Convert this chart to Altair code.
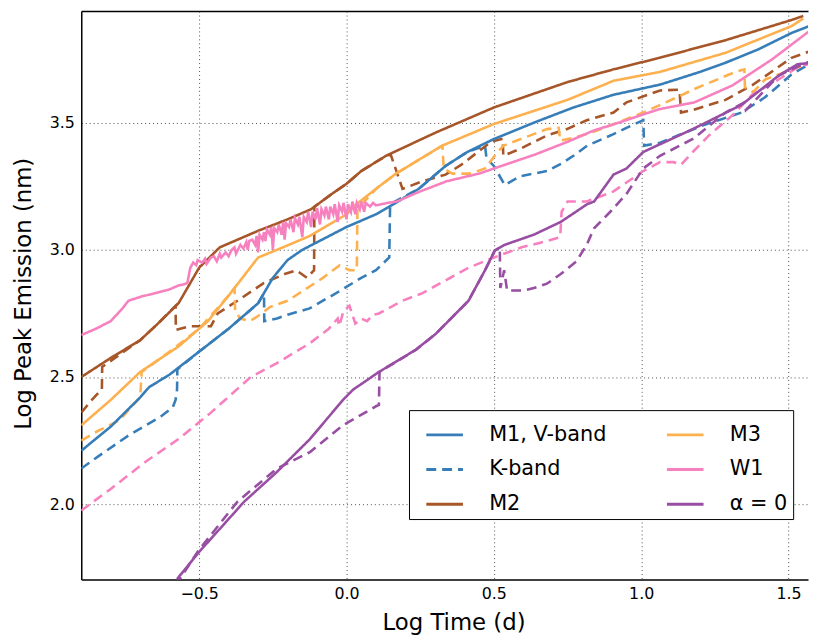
import altair as alt
import pandas as pd

# ---- series data (log time, log peak emission) ----
m1_x = [-0.9, -0.8, -0.7, -0.67, -0.6, -0.5, -0.4, -0.36, -0.3, -0.25, -0.2, -0.15, -0.1, 0.0, 0.1, 0.16,
        0.245, 0.336, 0.41, 0.5, 0.635, 0.77, 0.906, 1.064, 1.2, 1.286, 1.4, 1.51, 1.57]
m1_y = [2.21, 2.305, 2.42, 2.46, 2.51, 2.60, 2.69, 2.73, 2.79, 2.89, 2.96, 3.00, 3.03, 3.09, 3.14, 3.18,
        3.24, 3.33, 3.385, 3.436, 3.50, 3.56, 3.61, 3.65, 3.70, 3.736, 3.79, 3.853, 3.88]

m1k_x = [-0.9, -0.84, -0.74, -0.63, -0.59, -0.58, -0.575, -0.574, -0.5, -0.4, -0.3, -0.28, -0.279, -0.236,
         -0.2, -0.125, -0.035, 0.05, 0.1, 0.145, 0.148, 0.245, 0.336, 0.41, 0.47, 0.475, 0.5, 0.537,
         0.59, 0.636, 0.68, 0.73, 0.77, 0.817, 0.906, 0.95, 1.007, 1.01, 1.06, 1.21, 1.34, 1.42, 1.51, 1.57]
m1k_y = [2.14, 2.19, 2.27, 2.345, 2.38, 2.41, 2.45, 2.53, 2.60, 2.69, 2.79, 2.83, 2.72, 2.73,
         2.745, 2.77, 2.83, 2.89, 2.92, 2.97, 3.18, 3.24, 3.33, 3.385, 3.41, 3.36, 3.33, 3.255,
         3.29, 3.30, 3.31, 3.34, 3.37, 3.41, 3.455, 3.48, 3.51, 3.41, 3.42, 3.49, 3.54, 3.60, 3.69, 3.73]

m2_x = [-0.9, -0.8, -0.7, -0.64, -0.57, -0.5, -0.43, -0.3, -0.2, -0.12, -0.05, 0.0, 0.05, 0.134, 0.3,
        0.5, 0.75, 0.906, 1.064, 1.29, 1.51, 1.55]
m2_y = [2.50, 2.575, 2.645, 2.71, 2.79, 2.93, 3.01, 3.075, 3.12, 3.16, 3.22, 3.26, 3.31, 3.37, 3.46,
        3.56, 3.66, 3.71, 3.756, 3.826, 3.904, 3.92]

m2k_x = [-0.9, -0.864, -0.84, -0.83, -0.829, -0.7, -0.64, -0.58, -0.579, -0.53, -0.46, -0.437, -0.37,
         -0.28, -0.21, -0.17, -0.134, -0.11, -0.109, -0.05, 0.0, 0.05, 0.134, 0.15, 0.19, 0.258, 0.336,
         0.39, 0.49, 0.53, 0.532, 0.594, 0.68, 0.75, 0.815, 0.906, 0.95, 1.064, 1.13, 1.135, 1.175,
         1.286, 1.376, 1.51, 1.57]
m2k_y = [2.36, 2.41, 2.44, 2.45, 2.54, 2.645, 2.71, 2.78, 2.685, 2.70, 2.70, 2.75, 2.80,
         2.87, 2.905, 2.92, 2.89, 2.92, 3.17, 3.22, 3.26, 3.31, 3.37, 3.375, 3.24, 3.27, 3.296,
         3.335, 3.425, 3.437, 3.37, 3.40, 3.45, 3.476, 3.51, 3.54, 3.58, 3.627, 3.63, 3.54, 3.55,
         3.59, 3.647, 3.755, 3.78]

m3_x = [-0.9, -0.8, -0.7, -0.57, -0.5, -0.47, -0.4, -0.3, -0.236, -0.124, 0.0, 0.034, 0.1, 0.168,
        0.325, 0.5, 0.75, 0.906, 1.064, 1.286, 1.51, 1.55]
m3_y = [2.31, 2.41, 2.52, 2.62, 2.69, 2.72, 2.82, 2.97, 3.00, 3.055, 3.14, 3.18, 3.24, 3.30,
        3.41, 3.495, 3.59, 3.665, 3.70, 3.775, 3.88, 3.91]

m3k_x = [-0.9, -0.84, -0.77, -0.74, -0.70, -0.695, -0.6, -0.5, -0.4, -0.38, -0.378, -0.36, -0.327,
         -0.3, -0.26, -0.2, -0.146, -0.08, -0.023, 0.01, 0.035, 0.037, 0.1, 0.168, 0.325, 0.33, 0.36,
         0.42, 0.47, 0.513, 0.533, 0.6, 0.68, 0.72, 0.725, 0.77, 0.84, 1.007, 1.14, 1.175, 1.32, 1.35,
         1.352, 1.38, 1.42, 1.55]
m3k_y = [2.25, 2.29, 2.33, 2.37, 2.42, 2.52, 2.60, 2.69, 2.82, 2.85, 2.76, 2.73, 2.72,
         2.74, 2.775, 2.80, 2.84, 2.89, 2.94, 2.92, 2.92, 3.16, 3.24, 3.30, 3.41, 3.32, 3.30,
         3.30, 3.32, 3.385, 3.41, 3.44, 3.475, 3.48, 3.43, 3.44, 3.465, 3.54, 3.61, 3.63, 3.70, 3.71,
         3.64, 3.62, 3.67, 3.725]

w1_x = [-0.9, -0.85, -0.80, -0.76, -0.74, -0.70, -0.65, -0.60, -0.57, -0.55, -0.54,
        -0.53, -0.52, -0.51, -0.505, -0.49, -0.48, -0.475, -0.46, -0.45, -0.44, -0.43, -0.425, -0.41,
        -0.40, -0.39, -0.38, -0.375, -0.36, -0.35, -0.34, -0.335, -0.33, -0.32, -0.31, -0.305, -0.30,
        -0.295, -0.285, -0.28, -0.275, -0.27, -0.26, -0.255, -0.25, -0.245, -0.235, -0.23, -0.22,
        -0.215, -0.21, -0.205, -0.195, -0.19, -0.18, -0.175, -0.165, -0.16, -0.15, -0.145, -0.135,
        -0.13, -0.12, -0.115, -0.105, -0.10, -0.09, -0.085, -0.075, -0.07, -0.06, -0.055, -0.045,
        -0.04, -0.03, -0.025, -0.015, -0.01, 0.0, 0.005, 0.015, 0.02, 0.03, 0.035, 0.045, 0.05, 0.06,
        0.065, 0.08, 0.09, 0.10, 0.12, 0.14,
        0.17, 0.25, 0.34, 0.45, 0.5, 0.64, 0.75, 0.84, 0.91, 1.0, 1.06, 1.18, 1.31, 1.445, 1.57]
w1_y = [2.665, 2.69, 2.72, 2.77, 2.80, 2.815, 2.83, 2.845, 2.86, 2.865, 2.87,
        2.93, 2.95, 2.94, 2.96, 2.95, 2.965, 2.945, 2.97, 2.975, 2.955, 2.985, 2.97, 2.99,
        2.975, 3.00, 3.01, 2.985, 3.02, 3.005, 3.03, 3.00, 3.035, 3.04, 3.02, 3.055, 2.99,
        3.06, 3.04, 3.07, 3.035, 3.08, 3.06, 3.09, 3.00, 3.085, 3.07, 3.10, 3.06,
        3.11, 3.04, 3.105, 3.09, 3.12, 3.07, 3.125, 3.10, 3.13, 3.05, 3.13, 3.11,
        3.15, 3.09, 3.15, 3.12, 3.165, 3.10, 3.16, 3.135, 3.17, 3.12, 3.17, 3.14,
        3.18, 3.11, 3.175, 3.15, 3.185, 3.12, 3.18, 3.15, 3.19, 3.14, 3.185, 3.16, 3.19, 3.15,
        3.185, 3.17, 3.185, 3.175, 3.18, 3.185,
        3.19, 3.23, 3.27, 3.30, 3.32, 3.375, 3.425, 3.47, 3.495, 3.53, 3.553, 3.58, 3.647, 3.75, 3.86]

w1k_x = [-0.9, -0.8, -0.683, -0.57, -0.46, -0.325, -0.236, -0.124, -0.06, -0.03, -0.025, -0.01, 0.01,
         0.03, 0.05, 0.07, 0.09, 0.11, 0.19, 0.258, 0.336, 0.414, 0.5, 0.594, 0.68, 0.725, 0.73, 0.75,
         0.815, 0.906, 1.007, 1.064, 1.11, 1.135, 1.175, 1.23, 1.31, 1.376, 1.466, 1.54, 1.57]
w1k_y = [1.975, 2.06, 2.166, 2.256, 2.36, 2.50, 2.555, 2.633, 2.69, 2.73, 2.70, 2.76, 2.78,
         2.71, 2.73, 2.72, 2.745, 2.75, 2.80, 2.83, 2.88, 2.93, 2.97, 3.01, 3.035, 3.05, 3.15, 3.19,
         3.19, 3.23, 3.31, 3.345, 3.345, 3.335, 3.385, 3.45, 3.53, 3.61, 3.67, 3.725, 3.73]

a0_x = [-0.58, -0.572, -0.498, -0.347, -0.236, -0.124, -0.012, 0.022, 0.11, 0.235, 0.303, 0.414, 0.47,
        0.503, 0.537, 0.636, 0.727, 0.817, 0.84, 0.906, 0.95, 1.007, 1.175, 1.34, 1.466, 1.53, 1.57]
a0_y = [1.68, 1.71, 1.815, 2.01, 2.127, 2.256, 2.41, 2.45, 2.52, 2.607, 2.67, 2.80, 2.92,
        2.997, 3.02, 3.06, 3.11, 3.18, 3.19, 3.296, 3.32, 3.385, 3.475, 3.57, 3.685, 3.73, 3.735]

a0k_x = [-0.58, -0.504, -0.37, -0.236, -0.124, -0.012, 0.10, 0.11, 0.112, 0.235, 0.303, 0.414, 0.47,
         0.503, 0.52, 0.522, 0.535, 0.545, 0.60, 0.636, 0.68, 0.727, 0.78, 0.815, 0.84, 0.895, 0.95,
         1.007, 1.064, 1.175, 1.286, 1.35, 1.355, 1.466, 1.51, 1.57]
a0k_y = [1.68, 1.815, 2.01, 2.14, 2.205, 2.31, 2.385, 2.39, 2.52, 2.607, 2.67, 2.80, 2.92,
         2.997, 3.01, 2.85, 2.92, 2.84, 2.84, 2.85, 2.867, 2.905, 2.955, 3.02, 3.085, 3.15, 3.22,
         3.32, 3.37, 3.436, 3.54, 3.58, 3.55, 3.685, 3.71, 3.74]

# drawing order: dashed first, then solid
series_names = ["K-band", "M2 K", "M3 K", "W1 K", "α = 0 K",
                "M1, V-band", "M2", "M3", "W1", "α = 0"]
series_xy = [(m1k_x, m1k_y), (m2k_x, m2k_y), (m3k_x, m3k_y), (w1k_x, w1k_y), (a0k_x, a0k_y),
             (m1_x, m1_y), (m2_x, m2_y), (m3_x, m3_y), (w1_x, w1_y), (a0_x, a0_y)]
series_colors = ["#377eb8", "#a65628", "#fdb04e", "#f781bf", "#984ea3",
                 "#377eb8", "#a65628", "#fdb04e", "#f781bf", "#984ea3"]
series_dash = [[10, 6]] * 5 + [[1, 0]] * 5
legend_values = ["M1, V-band", "K-band", "M2", "M3", "W1", "α = 0"]

x_ticks = [-0.5, 0.0, 0.5, 1.0, 1.5]
y_ticks = [2.0, 2.5, 3.0, 3.5]

rows = []
for name, (xs, ys) in zip(series_names, series_xy):
    for i, (xv, yv) in enumerate(zip(xs, ys)):
        rows.append({"series": name, "x": xv, "y": yv, "idx": i})
df = pd.DataFrame(rows)

legend = alt.Legend(
    values=legend_values, title=None, orient="none", legendX=331, legendY=403,
    columns=2, symbolType="stroke", symbolSize=1369, symbolStrokeWidth=3, symbolOffset=11,
    labelFont="DejaVu Sans", labelFontSize=21, labelColor="black", labelOffset=25,
    strokeColor="black", fillColor="white", padding=5, rowPadding=5, columnPadding=48,
)

xscale = alt.Scale(domain=[-0.9, 1.566], nice=False, zero=False)
yscale = alt.Scale(domain=[1.704, 3.939], nice=False, zero=False)

lines = alt.Chart(df).mark_line(strokeWidth=2.6, clip=True).encode(
    x=alt.X("x:Q", scale=xscale,
            axis=alt.Axis(values=x_ticks, format=".1f", title="Log Time (d)",
                          titleX=376, titleY=51, titleBaseline="alphabetic", labelPadding=6)),
    y=alt.Y("y:Q", scale=yscale,
            axis=alt.Axis(values=y_ticks, format=".1f", title="Log Peak Emission (nm)",
                          titleX=-51, titleY=285, titleBaseline="alphabetic", labelPadding=7)),
    color=alt.Color("series:N", scale=alt.Scale(domain=series_names, range=series_colors), legend=legend),
    strokeDash=alt.StrokeDash("series:N", scale=alt.Scale(domain=series_names, range=series_dash), legend=legend),
    detail="series:N",
    order=alt.Order("idx:Q"),
)

frame = alt.Chart(df).mark_point(opacity=0).encode(
    x=alt.X("x:Q", scale=xscale,
            axis=alt.Axis(orient="top", labels=False, ticks=False, grid=False, title=None)),
    y=alt.Y("y:Q", scale=yscale),
)

chart = alt.layer(lines, frame).resolve_axis(x="independent").properties(
    width=734, height=574,
    autosize=alt.AutoSizeParams(type="none"),
    padding={"left": 74, "top": 0, "right": 1, "bottom": 56},
).configure_view(strokeWidth=0).configure_axis(
    labelFont="DejaVu Sans", labelFontSize=16, labelColor="black",
    titleFont="DejaVu Sans", titleFontSize=23, titleFontWeight="normal", titleColor="black",
    domainColor="black", domainWidth=1.5, ticks=False,
    gridColor="#000000", gridDash=[1, 3], gridOpacity=0.7, gridWidth=1,
)

chart.save("out.html", embed_options={"renderer": "svg", "actions": False})
